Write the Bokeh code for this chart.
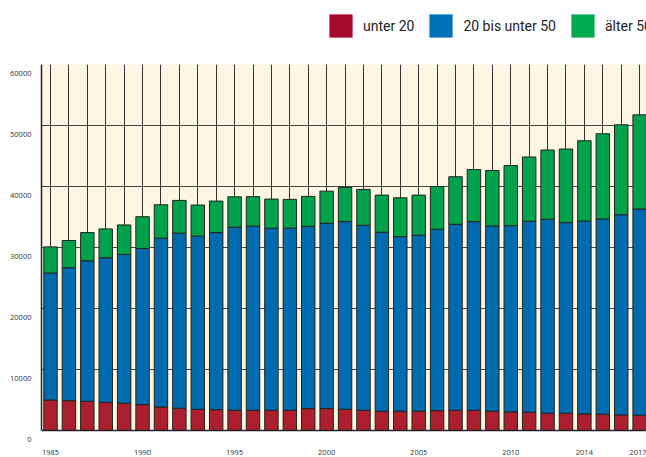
from bokeh.plotting import figure
from bokeh.layouts import column
from bokeh.models import ColumnDataSource, FixedTicker, Range1d, Legend, LegendItem
from bokeh.embed import file_html
from bokeh.resources import INLINE

years = list(range(1985, 2018))
unter_20 = [5000, 4890, 4780, 4620, 4460, 4240, 3860, 3650, 3480, 3420,
            3320, 3320, 3320, 3320, 3590, 3590, 3480, 3320, 3160, 3160,
            3160, 3260, 3320, 3320, 3160, 3050, 3000, 2830, 2830, 2720,
            2670, 2560, 2510]
bis_unter_50 = [20820, 21800, 23050, 23700, 24400, 25600, 27670, 28700, 28380, 29030,
                30000, 30180, 29840, 29840, 29890, 30380, 30760, 30330, 29350, 28630,
                28860, 29740, 30490, 30920, 30380, 30540, 31300, 31800, 31250, 31630,
                32010, 32820, 33800]
aelter_50 = [4280, 4450, 4620, 4730, 4840, 5210, 5480, 5370, 5100, 5160,
             4990, 4840, 4780, 4730, 4900, 5270, 5610, 5870, 6080, 6360,
             6570, 7000, 7790, 8540, 9080, 9840, 10540, 11350, 12060, 13160,
             13970, 14740, 15440]
series_names = ["unter 20", "20 bis unter 50", "älter 50"]
y_ticks = [0, 10000, 20000, 30000, 40000, 50000, 60000]
x_tick_years = [1985, 1990, 1995, 2000, 2005, 2010, 2014, 2017]

bar_colors = ["#AD1F2F", "#006BAE", "#00A24C"]
legend_colors = ["#A6092F", "#0071B9", "#00AB4F"]

src = ColumnDataSource(dict(year=years, u20=unter_20, m=bis_unter_50, o=aelter_50))

# legend strip
lg = figure(width=646, height=50, output_backend="svg", toolbar_location=None,
            x_range=Range1d(0, 1), y_range=Range1d(0, 1),
            min_border_left=0, min_border_right=0, min_border_top=0, min_border_bottom=0)
lg.axis.visible = False
lg.grid.visible = False
lg.outline_line_color = None
lg.background_fill_color = "white"
items = []
for name, col in zip(series_names, legend_colors):
    r = lg.quad(left=[0], right=[0], top=[0], bottom=[0], fill_color=col, line_color=None)
    items.append(LegendItem(label=name, renderers=[r]))
legend = Legend(items=items, orientation="horizontal", location=(285, 10),
                glyph_width=29, glyph_height=29, label_standoff=8, spacing=12,
                padding=0, margin=0, border_line_color=None, background_fill_alpha=0,
                label_text_font="Roboto", label_text_font_size="14px",
                label_text_color="#222222")
lg.add_layout(legend, "center")

# main chart
p = figure(width=646, height=407, output_backend="svg", toolbar_location=None,
           x_range=Range1d(1984.511, 2017.374), y_range=Range1d(0, 60000),
           min_border_left=41, min_border_right=0, min_border_top=14, min_border_bottom=25)
p.background_fill_color = "#FDF6E2"
p.border_fill_color = "white"
p.outline_line_color = None

p.vbar_stack(["u20", "m", "o"], x="year", width=0.73, fill_color=bar_colors,
             line_color="#222222", line_width=1, source=src)

p.xgrid.ticker = FixedTicker(ticks=years)
p.xgrid.grid_line_color = "#333333"
p.ygrid.ticker = FixedTicker(ticks=y_ticks)
p.ygrid.grid_line_color = "#444444"

p.xaxis.ticker = FixedTicker(ticks=x_tick_years)
p.yaxis.ticker = FixedTicker(ticks=y_ticks)
for ax in (p.xaxis, p.yaxis):
    ax.major_tick_out = 0
    ax.major_tick_in = 0
    ax.minor_tick_out = 0
    ax.minor_tick_in = 0
    ax.axis_line_color = "#222222"
    ax.axis_line_width = 1.5
    ax.major_label_text_font = "Open Sans"
    ax.major_label_text_font_size = "7.5px"
    ax.major_label_text_color = "#333333"
p.yaxis.major_label_standoff = 10
p.yaxis.major_label_text_line_height = 1.7
p.yaxis.major_label_overrides = {t: "\n" + str(t) for t in y_ticks}
p.xaxis.major_label_standoff = 19

layout = column(lg, p, spacing=0)
open("out.html", "w").write(file_html(layout, INLINE))
